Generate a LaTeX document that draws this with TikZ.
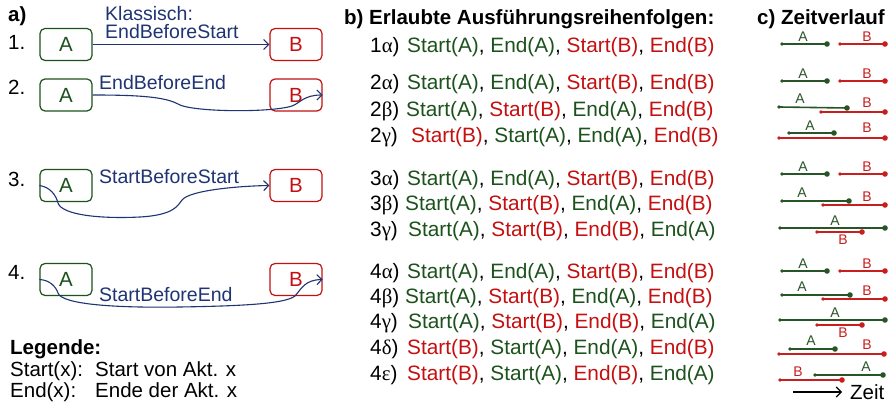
\documentclass[tikz,border=0pt]{standalone}
\usepackage{fontspec}
\setmainfont{Liberation Sans}
\newfontfamily\greekfont{Liberation Serif}
\usetikzlibrary{arrows.meta}

\definecolor{agreen}{RGB}{28,82,28}
\definecolor{bred}{RGB}{196,16,16}
\definecolor{linkblue}{RGB}{30,52,115}
\definecolor{tlgreen}{RGB}{40,85,40}
\definecolor{tlred}{RGB}{200,30,30}

% ordering items
\newcommand\stA{\textcolor{agreen}{Start(A)}}
\newcommand\enA{\textcolor{agreen}{End(A)}}
\newcommand\stB{\textcolor{bred}{Start(B)}}
\newcommand\enB{\textcolor{bred}{End(B)}}
\newcommand\gr[1]{{\greekfont #1}}

% one activity on the time line: line with small start dot and large end dot
\newcommand\seg[5]{%
  \draw[#1, line width=1.6pt] (#2,#3) -- (#4,#5);
  \fill[#1] (#2,#3) circle (1.8pt);
  \fill[#1] (#4,#5) circle (2.8pt);}

\tikzset{
  txt/.style={font=\fontsize{20.5}{24}\selectfont, inner sep=0pt, anchor=base west},
  head/.style={txt, font=\fontsize{20.5}{24}\selectfont\bfseries},
  row/.style={font=\fontsize{20.8}{24}\selectfont, inner sep=0pt, anchor=base west},
  abox/.style={draw=agreen, text=agreen, line width=1.2pt, rounded corners=5pt,
    minimum width=52pt, minimum height=32pt, inner sep=0pt,
    font=\fontsize{20.5}{24}\selectfont},
  bbox/.style={abox, draw=bred, text=bred},
  linklbl/.style={txt, text=linkblue, font=\fontsize{19.5}{22}\selectfont},
  link/.style={draw=linkblue, line width=1.1pt, -{Straight Barb[length=5pt,width=10pt]}},
  tllbl/.style={font=\fontsize{14}{16}\selectfont, inner sep=0pt},
}

\begin{document}
\begin{tikzpicture}[x=1pt,y=-1pt]
\useasboundingbox (0,0) rectangle (889,403);
\fill[white] (0,0) rectangle (889,403);

% ---------- a) dependency types ----------
\node[head] (ha) at (8,22) {a)};
\node[txt] (n1) at (8,50) {1.};
\node[txt] (n2) at (8,95) {2.};
\node[txt] (n3) at (8,187) {3.};
\node[txt] (n4) at (8,280) {4.};

\node[abox] (A1) at (66,44.5) {A};
\node[bbox] (B1) at (296,44.5) {B};
\node[abox] (A2) at (66,95) {A};
\node[bbox] (B2) at (296,95) {B};
\node[abox] (A3) at (66,185.5) {A};
\node[bbox] (B3) at (296,185.5) {B};
\node[abox] (A4) at (66,279.5) {A};
\node[bbox] (B4) at (296,279.5) {B};

\node[linklbl] (l1a) at (105,21) {Klassisch:};
\node[linklbl] (l1b) at (105,39) {EndBeforeStart};
\node[linklbl] (l2) at (99,90) {EndBeforeEnd};
\node[linklbl] (l3) at (99,184) {StartBeforeStart};
\node[linklbl] (l4) at (99,302) {StartBeforeEnd};

\draw[link] (A1.east) -- (B1.west);
\draw[link] (A2.east) .. controls (140,95) and (165,97) .. (178,104)
  .. controls (190,112) and (270,113) .. (292,106)
  .. controls (300,103) and (304,95) .. (B2.east);
\draw[link] (A3.west) .. controls (50,187) and (56,195) .. (58,203)
  .. controls (62,215) and (100,219) .. (140,217)
  .. controls (175,215) and (178,205) .. (182,200)
  .. controls (190,190) and (240,186) .. (B3.west);
\draw[link] (A4.west) .. controls (50,280) and (56,287) .. (58,293)
  .. controls (62,305) and (120,308) .. (180,307)
  .. controls (240,306) and (285,304) .. (295,296)
  .. controls (302,288) and (305,280) .. (B4.east);

% legend
\node[head] (leg) at (10,355) {Legende:};
\node[txt] (lg1) at (10,377) {Start(x):};
\node[txt] (lg1t) at (95,377) {Start von Akt. x};
\node[txt] (lg2) at (10,397) {End(x):};
\node[txt] (lg2t) at (95,397) {Ende der Akt. x};

% ---------- b) allowed orderings ----------
\node[head] (hb) at (344,25) {b) Erlaubte Ausführungsreihenfolgen:};

\node[row] (k1a) at (370,53) {1\gr{α})};
\node[row] (r1a) at (407,53) {\stA, \enA, \stB, \enB};

\node[row] (k2a) at (370,90) {2\gr{α})};
\node[row] (r2a) at (407,90) {\stA, \enA, \stB, \enB};
\node[row] (k2b) at (370,117) {2\gr{β})};
\node[row] (r2b) at (406,117) {\stA, \stB, \enA, \enB};
\node[row] (k2c) at (370,143) {2\gr{γ})};
\node[row] (r2c) at (411,143) {\stB, \stA, \enA, \enB};

\node[row] (k3a) at (370,186) {3\gr{α})};
\node[row] (r3a) at (407,186) {\stA, \enA, \stB, \enB};
\node[row] (k3b) at (370,211) {3\gr{β})};
\node[row] (r3b) at (405,211) {\stA, \stB, \enA, \enB};
\node[row] (k3c) at (370,237) {3\gr{γ})};
\node[row] (r3c) at (408,237) {\stA, \stB, \enB, \enA};

\node[row] (k4a) at (370,279) {4\gr{α})};
\node[row] (r4a) at (407,279) {\stA, \enA, \stB, \enB};
\node[row] (k4b) at (370,304) {4\gr{β})};
\node[row] (r4b) at (405,304) {\stA, \stB, \enA, \enB};
\node[row] (k4c) at (370,329) {4\gr{γ})};
\node[row] (r4c) at (408,329) {\stA, \stB, \enB, \enA};
\node[row] (k4d) at (370,355) {4\gr{δ})};
\node[row] (r4d) at (407,355) {\stB, \stA, \enA, \enB};
\node[row] (k4e) at (370,380) {4\gr{ε})};
\node[row] (r4e) at (407,380) {\stB, \stA, \enB, \enA};

% ---------- c) time lines ----------
\node[head] (hc) at (757,25) {c) Zeitverlauf};

% 1 alpha
\seg{tlgreen}{782}{44}{827}{44}
\seg{tlred}{840}{44}{885}{44}
\node[tllbl,text=tlgreen] (t1A) at (803,37) {A};
\node[tllbl,text=tlred] (t1B) at (867,37) {B};
% 2 alpha
\seg{tlgreen}{782}{81}{827}{81}
\seg{tlred}{840}{81}{885}{81}
\node[tllbl,text=tlgreen] (t2aA) at (803,74) {A};
\node[tllbl,text=tlred] (t2aB) at (867,74) {B};
% 2 beta
\seg{tlgreen}{779}{107}{847}{108}
\seg{tlred}{821}{112}{885}{112}
\node[tllbl,text=tlgreen] (t2bA) at (800,99) {A};
\node[tllbl,text=tlred] (t2bB) at (867,103) {B};
% 2 gamma
\seg{tlgreen}{789}{133}{834}{133}
\seg{tlred}{779}{138}{885}{138}
\node[tllbl,text=tlgreen] (t2cA) at (810,126) {A};
\node[tllbl,text=tlred] (t2cB) at (867,128) {B};
% 3 alpha
\seg{tlgreen}{782}{174}{827}{174}
\seg{tlred}{840}{174}{885}{174}
\node[tllbl,text=tlgreen] (t3aA) at (803,167) {A};
\node[tllbl,text=tlred] (t3aB) at (867,167) {B};
% 3 beta
\seg{tlgreen}{782}{201}{849}{201}
\seg{tlred}{823}{205}{885}{205}
\node[tllbl,text=tlgreen] (t3bA) at (802,193) {A};
\node[tllbl,text=tlred] (t3bB) at (867,197) {B};
% 3 gamma
\seg{tlgreen}{780}{228}{885}{228}
\seg{tlred}{817}{232}{862}{232}
\node[tllbl,text=tlgreen] (t3cA) at (835,221) {A};
\node[tllbl,text=tlred] (t3cB) at (843,240) {B};
% 4 alpha
\seg{tlgreen}{782}{271}{827}{271}
\seg{tlred}{840}{271}{885}{271}
\node[tllbl,text=tlgreen] (t4aA) at (803,264) {A};
\node[tllbl,text=tlred] (t4aB) at (867,264) {B};
% 4 beta
\seg{tlgreen}{782}{295}{850}{295}
\seg{tlred}{823}{299}{885}{299}
\node[tllbl,text=tlgreen] (t4bA) at (802,287) {A};
\node[tllbl,text=tlred] (t4bB) at (867,291) {B};
% 4 gamma
\seg{tlgreen}{780}{320}{885}{320}
\seg{tlred}{817}{325}{862}{325}
\node[tllbl,text=tlgreen] (t4cA) at (835,313) {A};
\node[tllbl,text=tlred] (t4cB) at (843,333) {B};
% 4 delta
\seg{tlgreen}{790}{349}{835}{349}
\seg{tlred}{779}{354}{884}{354}
\node[tllbl,text=tlgreen] (t4dA) at (811,341) {A};
\node[tllbl,text=tlred] (t4dB) at (867,345) {B};
% 4 epsilon
\seg{tlred}{780}{380}{842}{380}
\seg{tlgreen}{815}{375}{883}{375}
\node[tllbl,text=tlred] (t4eB) at (798,372) {B};
\node[tllbl,text=tlgreen] (t4eA) at (866,367) {A};

% time direction
\coordinate (zt) at (793,392);
\node[font=\fontsize{20.5}{24}\selectfont, inner sep=0pt, anchor=west] (zeit) at (850,392) {Zeit};
\draw[line width=1.1pt, -{Straight Barb[length=5pt,width=10pt]}] (zt) -- ([xshift=-8pt]zeit.west);
\end{tikzpicture}
\end{document}
